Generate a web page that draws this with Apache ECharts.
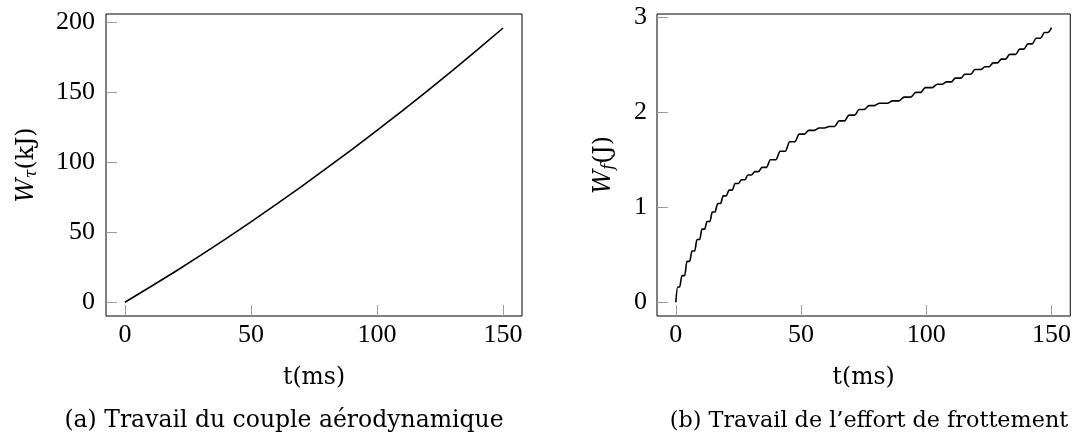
<!DOCTYPE html>
<html>
<head>
<meta charset="utf-8">
<script src="https://cdn.jsdelivr.net/npm/echarts@6/dist/echarts.min.js"></script>
<style>
html,body{margin:0;padding:0;background:#fff;}
#c{width:1074px;height:432px;}
</style>
</head>
<body>
<div id="c"></div>
<script>
// ---- data ----
const xTicks = [0, 50, 100, 150];
const yTicksA = [0, 50, 100, 150, 200];
const yTicksB = [0, 1, 2, 3];

// (a) aerodynamic torque work, kJ
const tauT = [0, 10, 20, 30, 40, 50, 60, 70, 80, 90, 100, 110, 120, 130, 140, 150];
const tauW = [0, 10.9, 22.0, 33.5, 45.3, 57.4, 69.9, 82.6, 95.7, 109.0, 122.7, 136.7, 151.0, 165.6, 180.6, 195.8];

// (b) friction work, J (staircase)
const fricT = [0, 0.8, 1.5, 2.5, 3.5, 4.5, 5.5, 6.5, 7.5, 8.5, 9.5, 10.5, 11.5, 12.5, 13.6, 14.6,
  15.6, 16.8, 17.85, 18.95, 20.1, 21.3, 22.5, 23.7, 25.0, 26.2, 27.6, 28.8, 30.2, 31.6, 33.0, 34.4,
  36.2, 37.8, 39.9, 41.7, 43.7, 45.5, 47.5, 49.3, 51.3, 53.1, 55.4, 57.2, 59.4, 61.2, 63.4, 65.2,
  67.4, 69.2, 71.4, 73.2, 75.3, 77.1, 79.3, 81.3, 84.5, 86.5, 89.1, 91.1, 93.8, 95.8, 97.8, 99.6,
  102.4, 104.4, 106.3, 108.1, 110.0, 111.6, 113.8, 115.4, 117.8, 119.4, 121.8, 123.4, 125.1, 126.7,
  128.4, 130.0, 131.7, 133.3, 135.7, 137.3, 139.0, 140.6, 142.3, 143.9, 145.6, 147.2, 148.6, 150.0];
const fricW = [0, 0.16, 0.16, 0.28, 0.28, 0.43, 0.43, 0.54, 0.54, 0.66, 0.66, 0.77, 0.77, 0.85, 0.85, 0.95,
  0.95, 1.04, 1.04, 1.12, 1.12, 1.18, 1.18, 1.25, 1.25, 1.29, 1.29, 1.34, 1.34, 1.375, 1.375, 1.42,
  1.42, 1.50, 1.50, 1.59, 1.59, 1.69, 1.69, 1.77, 1.77, 1.81, 1.81, 1.835, 1.835, 1.85, 1.85, 1.91,
  1.91, 1.97, 1.97, 2.03, 2.03, 2.07, 2.07, 2.095, 2.095, 2.12, 2.12, 2.16, 2.16, 2.21, 2.21, 2.26,
  2.26, 2.295, 2.295, 2.32, 2.32, 2.36, 2.36, 2.40, 2.40, 2.45, 2.45, 2.48, 2.48, 2.52,
  2.52, 2.56, 2.56, 2.61, 2.61, 2.665, 2.665, 2.72, 2.72, 2.78, 2.78, 2.84, 2.84, 2.89];

const captionA = '(a) Travail du couple aérodynamique';
const captionB = '(b) Travail de l’effort de frottement';
const xName = 't(ms)';

// ---- chart ----
const NUMFONT = "'Liberation Serif', 'DejaVu Serif', serif";
const TXTFONT = "'DejaVu Serif', 'Liberation Serif', serif";
const NFS = 26;
const TFS = 23.5;
const tickStyle = { show: true, inside: true, length: 11, lineStyle: { color: '#9a9a9a', width: 1 } };

function xAxis(gi) {
  return {
    type: 'value', gridIndex: gi, min: -7.5, max: 157.5,
    axisLine: { show: false, onZero: false }, splitLine: { show: false },
    axisTick: Object.assign({ customValues: xTicks }, tickStyle),
    axisLabel: { customValues: xTicks, margin: 6, color: '#000', fontFamily: NUMFONT, fontSize: NFS },
    name: xName, nameLocation: 'middle', nameGap: 50,
    nameTextStyle: { color: '#000', fontFamily: TXTFONT, fontSize: TFS }
  };
}
function yAxis(gi, min, max, ticks, margin, name, gap) {
  return {
    type: 'value', gridIndex: gi, min: min, max: max,
    axisLine: { show: false, onZero: false }, splitLine: { show: false },
    axisTick: Object.assign({ customValues: ticks }, tickStyle),
    axisLabel: { customValues: ticks, margin: margin, color: '#000', fontFamily: NUMFONT, fontSize: NFS },
    name: name, nameLocation: 'middle', nameRotate: 90, nameGap: gap,
    nameTextStyle: { color: '#000', fontFamily: TXTFONT, fontSize: TFS, rich: richName }
  };
}
const richName = {
  w: { fontFamily: TXTFONT, fontSize: TFS, fontStyle: 'italic', color: '#000' },
  s: { fontFamily: TXTFONT, fontSize: 16, fontStyle: 'italic', color: '#000', padding: [11, 0, 0, 0] },
  n: { fontFamily: TXTFONT, fontSize: TFS, color: '#000' }
};

const chart = echarts.init(document.getElementById('c'), null, { renderer: 'canvas' });
chart.setOption({
  animation: false,
  backgroundColor: '#fff',
  title: [
    { text: captionA, left: 279, top: 404, textAlign: 'center',
      textStyle: { fontFamily: TXTFONT, fontSize: TFS, fontWeight: 'normal', color: '#000' } },
    { text: captionB, left: 864, top: 405, textAlign: 'center',
      textStyle: { fontFamily: TXTFONT, fontSize: 22.3, fontWeight: 'normal', color: '#000' } }
  ],
  grid: [
    { left: 106, top: 14, width: 416, height: 302, show: true, borderColor: '#000', borderWidth: 1, backgroundColor: 'transparent' },
    { left: 657, top: 14, width: 416, height: 302, show: true, borderColor: '#000', borderWidth: 1, backgroundColor: 'transparent' }
  ],
  xAxis: [xAxis(0), xAxis(1)],
  yAxis: [
    yAxis(0, -9.8, 205.8, yTicksA, 11, '{w|W}{s|τ}{n|(kJ)}', 66),
    yAxis(1, -0.1445, 3.0345, yTicksB, 10, '{w|W}{s|f}{n|(J)}', 40)
  ],
  series: [
    { type: 'line', xAxisIndex: 0, yAxisIndex: 0, showSymbol: false, symbol: 'none',
      lineStyle: { color: '#000', width: 1.6 },
      data: tauT.map((t, i) => [t, tauW[i]]) },
    { type: 'line', xAxisIndex: 1, yAxisIndex: 1, showSymbol: false, symbol: 'none',
      smooth: 0.25,
      lineStyle: { color: '#000', width: 1.6 },
      data: fricT.map((t, i) => [t, fricW[i]]) }
  ]
});
</script>
</body>
</html>
